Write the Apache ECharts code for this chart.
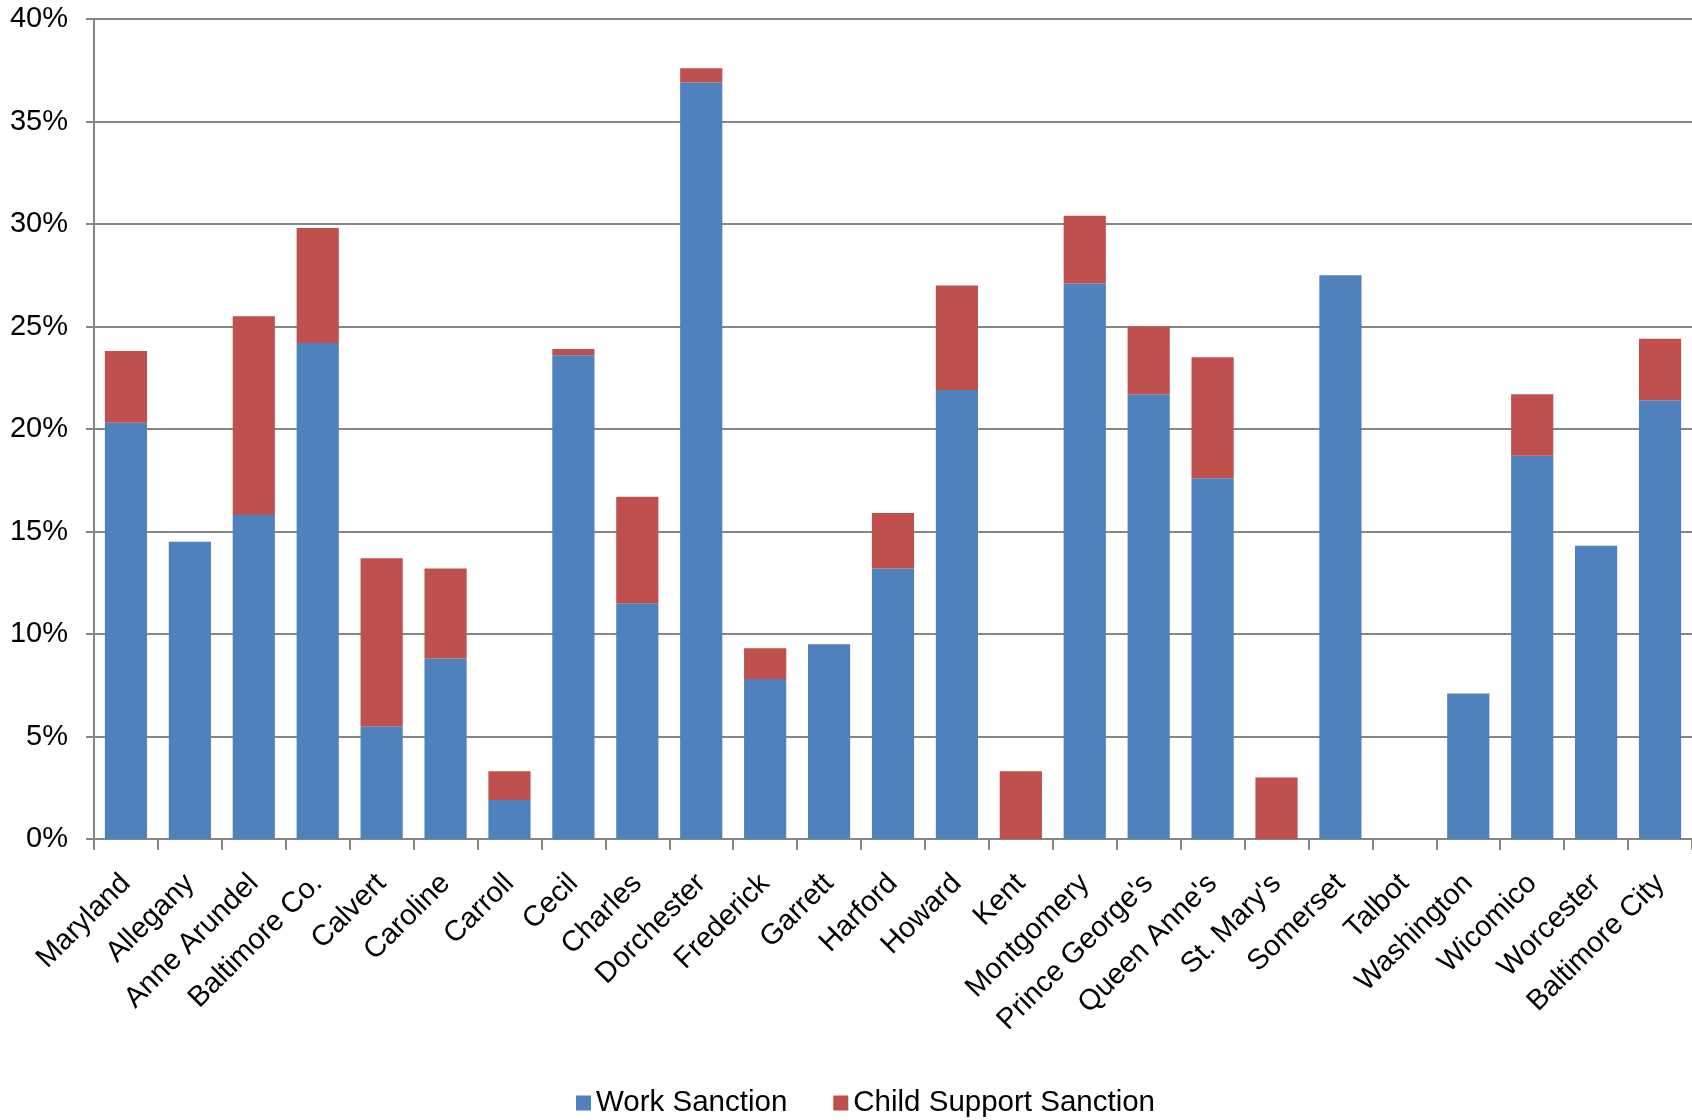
<!DOCTYPE html>
<html>
<head>
<meta charset="utf-8">
<script src="https://cdn.jsdelivr.net/npm/echarts@6/dist/echarts.min.js"></script>
<style>html,body{margin:0;padding:0;background:#fff;}#c{width:1692px;height:1120px;}</style>
</head>
<body>
<div id="c"></div>
<script>
const categories = ["Maryland","Allegany","Anne Arundel","Baltimore Co.","Calvert","Caroline","Carroll","Cecil","Charles","Dorchester","Frederick","Garrett","Harford","Howard","Kent","Montgomery","Prince George's","Queen Anne's","St. Mary's","Somerset","Talbot","Washington","Wicomico","Worcester","Baltimore City"];
const workSanction = [20.3,14.5,15.8,24.2,5.5,8.8,1.9,23.6,11.5,36.9,7.8,9.5,13.2,21.9,0,27.1,21.7,17.6,0,27.5,0,7.1,18.7,14.3,21.4];
const childSupportSanction = [3.5,0,9.7,5.6,8.2,4.4,1.4,0.3,5.2,0.7,1.5,0,2.7,5.1,3.3,3.3,3.3,5.9,3.0,0,0,0,3.0,0,3.0];
const yTicks = [0,5,10,15,20,25,30,35,40];

const chart = echarts.init(document.getElementById('c'), null, {renderer:'canvas'});
const font = 'Liberation Sans, Arial, sans-serif';
chart.setOption({
  animation:false,
  backgroundColor:'#ffffff',
  textStyle:{fontFamily:font},
  legend:{
    data:['Work Sanction','Child Support Sanction'],
    left:571, top:1083,
    icon:'rect', itemWidth:15, itemHeight:15, itemGap:46,
    textStyle:{fontSize:29.5, color:'#000', fontFamily:font}
  },
  grid:{left:94, right:0, top:19, bottom:281, containLabel:false},
  xAxis:{
    type:'category', data:categories,
    axisLine:{lineStyle:{color:'#868686', width:2}},
    axisTick:{show:true, length:11, lineStyle:{color:'#868686', width:2}},
    axisLabel:{rotate:45, fontSize:29, color:'#000', margin:40, interval:0, fontFamily:font}
  },
  yAxis:{
    type:'value', min:yTicks[0], max:yTicks[yTicks.length-1], interval:5,
    axisLine:{show:true, lineStyle:{color:'#868686', width:2}},
    axisTick:{show:true, length:8, lineStyle:{color:'#868686', width:2}},
    axisLabel:{formatter:'{value}%', fontSize:29, color:'#000', margin:26, fontFamily:font},
    splitLine:{lineStyle:{color:'#868686', width:2}}
  },
  series:[
    {name:'Work Sanction', type:'bar', stack:'s', data:workSanction, barCategoryGap:'34%',
     itemStyle:{color:'#4F81BD'}},
    {name:'Child Support Sanction', type:'bar', stack:'s', data:childSupportSanction,
     itemStyle:{color:'#C0504D'}}
  ]
});
</script>
</body>
</html>
